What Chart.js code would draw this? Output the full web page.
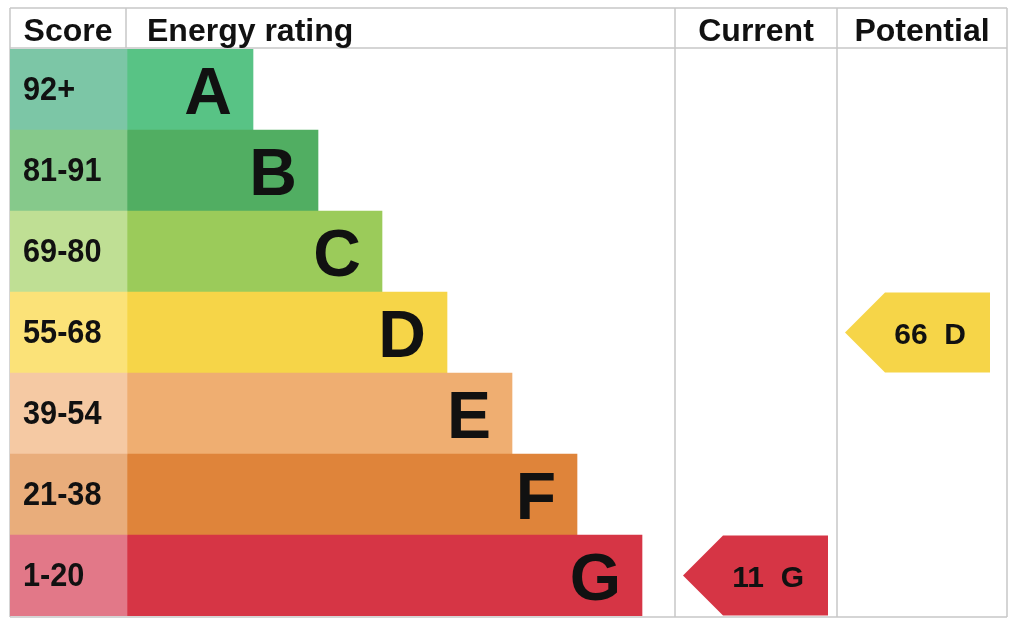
<!DOCTYPE html>
<html>
<head>
<meta charset="utf-8">
<script src="https://cdn.jsdelivr.net/npm/chart.js@4"></script>
<style>
  html, body { margin: 0; padding: 0; background: #ffffff; }
  #wrap { width: 1024px; height: 623px; }
</style>
</head>
<body>
<div id="wrap"><canvas id="c" width="1024" height="623"></canvas></div>
<script>
// ---- data ----
const bands = ['A', 'B', 'C', 'D', 'E', 'F', 'G'];
const scoreRanges = ['92+', '81-91', '69-80', '55-68', '39-54', '21-38', '1-20'];
const bandMinScores = [92, 81, 69, 55, 39, 21, 1];
const barLengths = [126, 191, 255, 320, 385, 450, 515];
const headers = ['Score', 'Energy rating', 'Current', 'Potential'];
const currentScore = 11;
const potentialScore = 66;

// ---- styles ----
const scoreColors = ['#7cc6a6', '#86c98b', '#bfdf94', '#fbe278', '#f5c9a3', '#e9ad7b', '#e27888'];
const bandColors  = ['#58c385', '#51ae62', '#9bcb5a', '#f6d548', '#efae71', '#df843a', '#d63545'];
const gridColor = '#c8c8c8';
const FONT = '"Liberation Sans", Arial, Helvetica, sans-serif';
const X_MIN = -117, X_MAX = 880;
const COL_CURRENT = [548, 710];
const COL_POTENTIAL = [710, 880];

function bandIndex(score) {
  return bandMinScores.findIndex(m => score >= m);
}

function squeezedText(ctx, text, px, py, sx) {
  ctx.save();
  ctx.translate(px, py);
  ctx.scale(sx, 1);
  ctx.fillText(text, 0, 0);
  ctx.restore();
}

const epcPlugin = {
  id: 'epc',
  beforeDatasetsDraw(chart) {
    const ctx = chart.ctx, x = chart.scales.x, a = chart.chartArea;
    ctx.save();
    ctx.strokeStyle = gridColor;
    ctx.lineWidth = 1.5;
    const L = x.getPixelForValue(X_MIN), R = x.getPixelForValue(X_MAX);
    const top = a.top - 41, hb = a.top - 1, bot = a.bottom + 1;
    ctx.beginPath();
    ctx.moveTo(L, top); ctx.lineTo(R, top);
    ctx.moveTo(L, hb); ctx.lineTo(R, hb);
    ctx.moveTo(L, bot); ctx.lineTo(R, bot);
    ctx.moveTo(L, top); ctx.lineTo(L, bot);
    ctx.moveTo(R, top); ctx.lineTo(R, bot);
    const div = x.getPixelForValue(-1);
    ctx.moveTo(div, top); ctx.lineTo(div, hb);
    [COL_CURRENT[0], COL_POTENTIAL[0]].forEach(v => {
      const p = x.getPixelForValue(v);
      ctx.moveTo(p, top); ctx.lineTo(p, bot);
    });
    ctx.stroke();
    ctx.restore();
  },
  afterDatasetsDraw(chart) {
    const ctx = chart.ctx, x = chart.scales.x, y = chart.scales.y, a = chart.chartArea;
    ctx.save();
    ctx.fillStyle = '#111111';
    // headers
    ctx.font = 'bold 32px ' + FONT;
    ctx.textBaseline = 'alphabetic';
    const hy = a.top - 8;
    ctx.textAlign = 'center';
    ctx.fillText(headers[0], (x.getPixelForValue(X_MIN) + x.getPixelForValue(-1)) / 2, hy);
    ctx.textAlign = 'left';
    ctx.fillText(headers[1], x.getPixelForValue(0) + 20, hy);
    ctx.textAlign = 'center';
    ctx.fillText(headers[2], (x.getPixelForValue(COL_CURRENT[0]) + x.getPixelForValue(COL_CURRENT[1])) / 2, hy);
    ctx.fillText(headers[3], (x.getPixelForValue(COL_POTENTIAL[0]) + x.getPixelForValue(COL_POTENTIAL[1])) / 2, hy);

    // score ranges & letters
    bands.forEach((b, i) => {
      const cy = y.getPixelForValue(i);
      ctx.textAlign = 'left';
      ctx.font = 'bold 33px ' + FONT;
      squeezedText(ctx, scoreRanges[i], x.getPixelForValue(X_MIN) + 13, cy + 10, 0.93);
      ctx.textAlign = 'right';
      ctx.font = 'bold 66px ' + FONT;
      ctx.fillText(b, x.getPixelForValue(barLengths[i]) - 21, cy + 24);
    });

    // arrows
    const rowH = y.getPixelForValue(1) - y.getPixelForValue(0);
    function arrow(score, col) {
      const i = bandIndex(score);
      const cy = y.getPixelForValue(i);
      const t = cy - rowH / 2 + 0.5, btm = cy + rowH / 2 - 0.5;
      const left = x.getPixelForValue(col[0]) + 8;
      const right = left + 145;
      const head = 40;
      ctx.fillStyle = bandColors[i];
      ctx.beginPath();
      ctx.moveTo(left, cy);
      ctx.lineTo(left + head, t);
      ctx.lineTo(right, t);
      ctx.lineTo(right, btm);
      ctx.lineTo(left + head, btm);
      ctx.closePath();
      ctx.fill();
      ctx.fillStyle = '#111111';
      ctx.font = 'bold 30px ' + FONT;
      ctx.textAlign = 'right';
      ctx.fillText(score + '  ' + bands[i], right - 24, cy + 11);
    }
    arrow(currentScore, COL_CURRENT);
    arrow(potentialScore, COL_POTENTIAL);
    ctx.restore();
  }
};

new Chart(document.getElementById('c'), {
  type: 'bar',
  data: {
    labels: bands,
    datasets: [
      {
        label: 'Score',
        data: bands.map(() => [X_MIN, 0]),
        backgroundColor: scoreColors,
        borderWidth: 0,
        grouped: false,
        categoryPercentage: 1,
        barPercentage: 1
      },
      {
        label: 'Energy rating',
        data: barLengths,
        backgroundColor: bandColors,
        borderWidth: 0,
        grouped: false,
        categoryPercentage: 1,
        barPercentage: 1
      }
    ]
  },
  options: {
    indexAxis: 'y',
    responsive: false,
    animation: false,
    layout: { padding: { left: 10, right: 17, top: 49, bottom: 7 } },
    plugins: { legend: { display: false }, tooltip: { enabled: false } },
    scales: {
      x: { type: 'linear', min: X_MIN, max: X_MAX, display: false },
      y: { type: 'category', display: false, offset: true }
    }
  },
  plugins: [epcPlugin]
});
</script>
</body>
</html>
